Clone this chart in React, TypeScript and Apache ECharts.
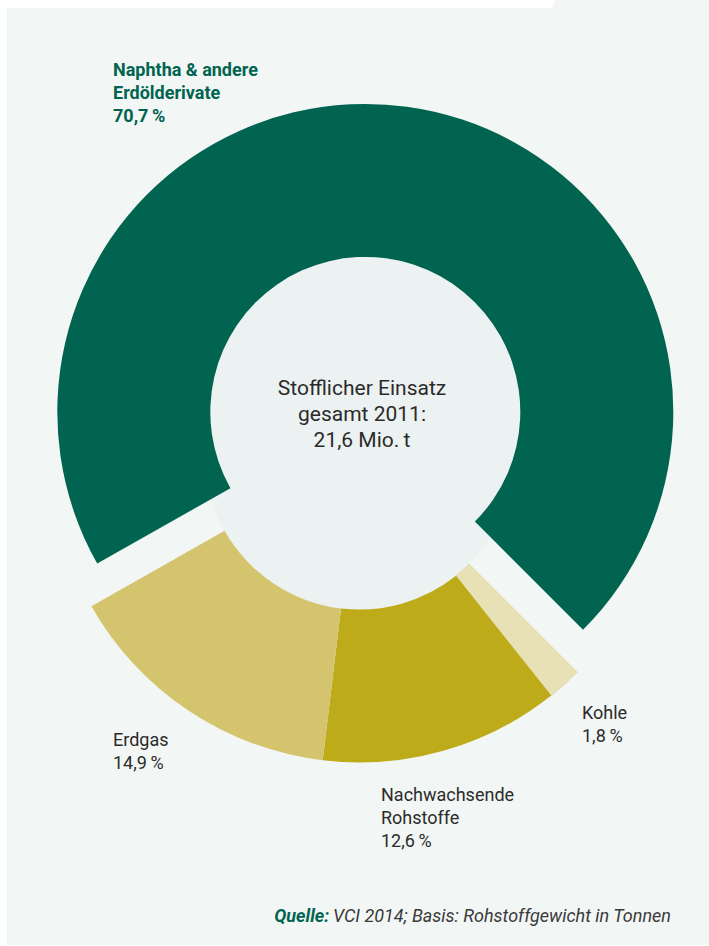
import React, { useEffect, useRef } from "react";
import * as echarts from "echarts";

const categories = ["Naphtha & andere\nErdölderivate", "Kohle", "Nachwachsende\nRohstoffe", "Erdgas"];
const shares = [70.7, 1.8, 12.6, 14.9];
const sliceColors = ["#006450", "#e9e1b6", "#bdab1a", "#d4c46e"];
const centerLines = ["Stofflicher Einsatz", "gesamt 2011:", "21,6 Mio.\u2009t"];
const sourceLabel = "Quelle:";
const sourceText = "VCI 2014; Basis: Rohstoffgewicht in Tonnen";

const labelPos = [
  { x: 113, y: 58 },
  { x: 582, y: 701 },
  { x: 381, y: 783 },
  { x: 113, y: 728 },
];

const FONT = "Roboto, 'Noto Sans', sans-serif";
const CENTER: [number, number] = [359.5, 454.5];
const R_IN = 155;
const R_OUT = 308;
const OFFSET = 43;
const START = 209.5;
const INNER_COLOR = "#ecf2f1";
const BG = "#f2f6f4";

export default function App() {
  const ref = useRef<HTMLDivElement>(null);
  useEffect(() => {
    if (!ref.current) return;
    const chart = echarts.init(ref.current, null, { renderer: "svg" });
    const fmt = (v: number) => v.toFixed(1).replace(".", ",") + "\u2009%";
    const ringData = categories.map((name, i) => ({
      name,
      value: shares[i],
      selected: i === 0,
      itemStyle: {
        color: sliceColors[i],
        borderColor: i === 1 ? "#d6cb8c" : sliceColors[i],
        borderWidth: i === 1 ? 0.6 : 0,
      },
      select: { itemStyle: { color: sliceColors[i], borderWidth: i === 1 ? 0.6 : 0 } },
    }));

    // direction of the exploded slice (mid angle of first slice)
    const total = shares.reduce((a, b) => a + b, 0);
    const midDeg = START - (shares[0] / total) * 360 / 2;
    const midRad = (midDeg * Math.PI) / 180;
    const explodedCenter: [number, number] = [
      CENTER[0] + OFFSET * Math.cos(midRad),
      CENTER[1] - OFFSET * Math.sin(midRad),
    ];

    const labelTexts = categories.map((name, i) => ({
      type: "text",
      z: 50,
      x: labelPos[i].x,
      y: labelPos[i].y,
      style: {
        text: name + "\n" + fmt(shares[i]),
        align: "left",
        verticalAlign: "top",
        fontFamily: FONT,
        fontSize: 18,
        lineHeight: 23,
        fontWeight: i === 0 ? "bold" : "normal",
        fill: i === 0 ? "#006450" : "#2b2b2b",
      },
    }));

    chart.setOption({
      animation: false,
      graphic: [
        {
          type: "rect",
          z: -10,
          shape: { x: 7, y: 8, width: 702, height: 937 },
          style: { fill: BG },
        },
        {
          type: "polygon",
          z: -10,
          shape: { points: [[552, 8], [555, 0], [709, 0], [709, 8]] },
          style: { fill: BG },
        },
        {
          type: "text",
          z: 50,
          x: 362,
          y: 414,
          style: {
            text: centerLines.join("\n"),
            align: "center",
            verticalAlign: "middle",
            fontFamily: FONT,
            fontSize: 21,
            lineHeight: 26,
            fill: "#2b2b2b",
          },
        },
        {
          type: "text",
          z: 50,
          x: 671,
          y: 915,
          style: {
            text: "{q|" + sourceLabel + "} {t|" + sourceText + "}",
            align: "right",
            verticalAlign: "middle",
            rich: {
              q: { fontFamily: FONT, fontSize: 18, fontStyle: "italic", fontWeight: "bold", fill: "#006450", color: "#006450" },
              t: { fontFamily: FONT, fontSize: 18, fontStyle: "italic", fill: "#3a3a3a", color: "#3a3a3a" },
            },
          },
        },
        ...labelTexts,
      ],
      series: [
        {
          type: "pie",
          z: 1,
          silent: true,
          center: explodedCenter,
          radius: [0, R_IN + 2],
          emphasis: { disabled: true },
          label: { show: false },
          labelLine: { show: false },
          itemStyle: { color: INNER_COLOR },
          data: [{ value: 1, name: "innen-oben" }],
        },
        {
          type: "pie",
          z: 1,
          silent: true,
          center: CENTER,
          radius: [0, R_IN],
          emphasis: { disabled: true },
          label: { show: false },
          labelLine: { show: false },
          itemStyle: { color: INNER_COLOR },
          data: [{ value: 1, name: "innen-unten" }],
        },
        {
          type: "pie",
          z: 2,
          center: CENTER,
          radius: [R_IN, R_OUT],
          startAngle: START,
          clockwise: true,
          selectedMode: "multiple",
          selectedOffset: OFFSET,
          avoidLabelOverlap: false,
          emphasis: { disabled: true },
          label: { show: false },
          labelLine: { show: false },
          data: ringData,
        },
      ],
    });
    return () => chart.dispose();
  }, []);
  return (
    <div
      ref={ref}
      style={{ position: "fixed", left: 0, top: 0, width: 709, height: 946, background: "#ffffff" }}
    />
  );
}
